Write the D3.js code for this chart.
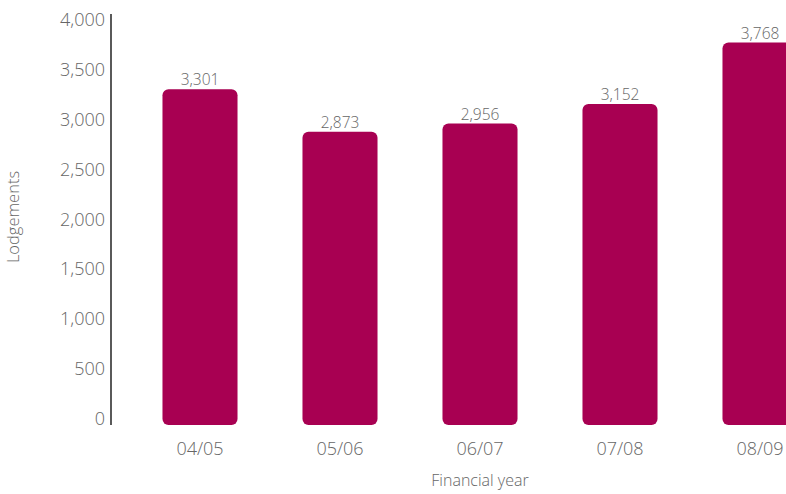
<!DOCTYPE html>
<html>
<head>
<meta charset="utf-8">
<script src="https://cdn.jsdelivr.net/npm/d3@7"></script>
<style>
  html, body { margin: 0; padding: 0; background: #fff; }
  svg text { font-family: "Open Sans", "Noto Sans", sans-serif; font-weight: 300; fill: #666; }
</style>
</head>
<body>
<svg id="chart" width="786" height="494"></svg>
<script>
// Lodgements per financial year
const years = ["04/05", "05/06", "06/07", "07/08", "08/09"];
const lodgements = [3301, 2873, 2956, 3152, 3768];
const yTicks = [0, 500, 1000, 1500, 2000, 2500, 3000, 3500, 4000];

const svg = d3.select("#chart");
const barColor = "#a80052";

const y = d3.scaleLinear().domain([0, 4000]).range([418, 19.5]);
const x = d3.scaleBand()
  .domain(years)
  .range([130, 830])
  .paddingInner(0.464)
  .paddingOuter(0.232);

const fmt = d3.format(",");
const barBottom = y(0) + 7;

// Bars (rounded on every corner, sitting slightly below the zero line)
svg.append("g").selectAll("rect")
  .data(years.map((yr, i) => ({ yr, v: lodgements[i] })))
  .join("rect")
  .attr("x", d => x(d.yr))
  .attr("y", d => y(d.v))
  .attr("width", x.bandwidth())
  .attr("height", d => barBottom - y(d.v))
  .attr("rx", 6)
  .attr("ry", 6)
  .attr("fill", barColor);

// Value labels above bars
svg.append("g").selectAll("text")
  .data(years.map((yr, i) => ({ yr, v: lodgements[i] })))
  .join("text")
  .attr("x", d => x(d.yr) + x.bandwidth() / 2)
  .attr("y", d => y(d.v) - 4)
  .attr("text-anchor", "middle")
  .style("font-size", "15.5px")
  .text(d => fmt(d.v));

// Y axis: line plus labels, no tick marks
const yAxis = svg.append("g")
  .attr("transform", "translate(111,0)")
  .call(d3.axisLeft(y).tickValues(yTicks).tickFormat(fmt).tickSize(0).tickPadding(6));
yAxis.select(".domain").remove();
yAxis.selectAll("text")
  .style("font-size", "18px")
  .attr("fill", null)
  .attr("dy", "0.35em");
svg.append("line")
  .attr("x1", 111).attr("x2", 111)
  .attr("y1", 14).attr("y2", barBottom)
  .attr("stroke", "#000").attr("stroke-width", 1.3);

// X axis labels
const xAxis = svg.append("g")
  .attr("transform", `translate(0,${barBottom})`)
  .call(d3.axisBottom(x).tickSize(0).tickPadding(17));
xAxis.select(".domain").remove();
xAxis.selectAll("text")
  .style("font-size", "18px")
  .attr("fill", null);

// Axis titles
svg.append("text")
  .attr("x", 480)
  .attr("y", 486)
  .attr("text-anchor", "middle")
  .style("font-size", "16px")
  .text("Financial year");

svg.append("text")
  .attr("transform", "translate(19,217) rotate(-90)")
  .attr("text-anchor", "middle")
  .style("font-size", "16.5px")
  .text("Lodgements");
</script>
</body>
</html>
